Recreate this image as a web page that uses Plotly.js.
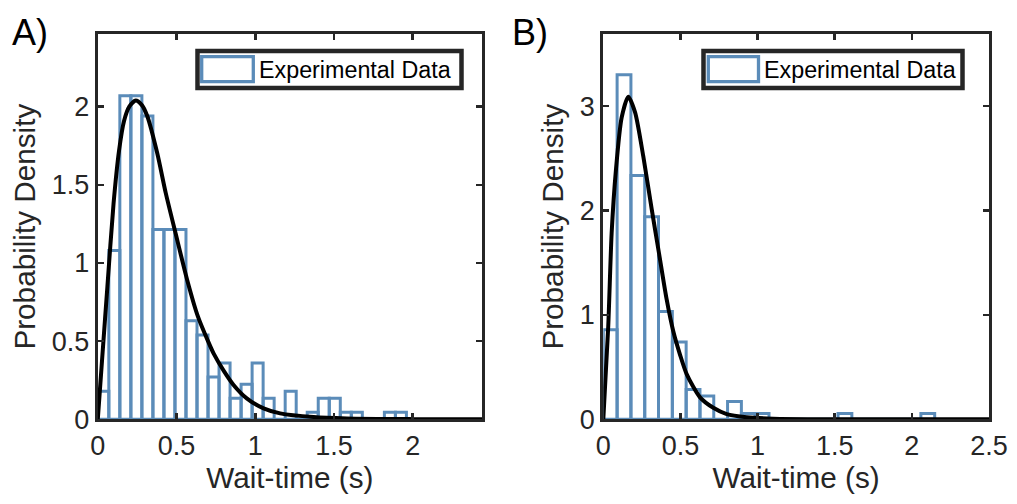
<!DOCTYPE html>
<html><head><meta charset="utf-8">
<script src="https://cdn.plot.ly/plotly-3.0.1.min.js"></script>
<style>html,body{margin:0;padding:0;background:#fff;} #chart{width:1017px;height:504px;}</style>
</head><body><div id="chart"></div>
<script>
// ---- Panel A: histogram (probability density) ----
const binStartA = 0;
const binWidthA = 0.07;
const densityA = [0.18,1.08,2.07,2.07,1.94,1.215,1.215,1.215,0.63,0.54,0.27,0.36,0.135,0.225,0.36,0.135,0,0.18,0,0.045,0.135,0.135,0.045,0.045,0,0,0.045,0.045];
// fitted curve A
const fitTimeA = [0,0.03,0.061,0.10,0.135,0.167,0.20,0.241,0.28,0.314,0.378,0.431,0.494,0.568,0.635,0.70,0.736,0.80,0.862,0.946,1.053,1.158,1.37,1.58,2.0,2.44];
const fitDensityA = [0,0.42,0.85,1.38,1.72,1.91,2.00,2.04,2.01,1.94,1.70,1.45,1.19,0.89,0.66,0.50,0.42,0.31,0.22,0.134,0.07,0.038,0.014,0.005,0.001,0];

// ---- Panel B ----
const binStartB = 0;
const binWidthB = 0.0895;
const densityB = [0.857,3.30,2.335,1.94,1.033,0.74,0.285,0.224,0,0.17,0.055,0.055,0,0,0,0,0,0.055,0,0,0,0,0,0.055];
const fitTimeB = [0,0.032,0.054,0.082,0.119,0.162,0.206,0.259,0.314,0.361,0.411,0.454,0.497,0.541,0.627,0.713,0.80,0.93,1.1,1.5,2.5];
const fitDensityB = [0,0.89,1.78,2.39,2.89,3.09,2.94,2.52,2.01,1.59,1.145,0.84,0.62,0.43,0.21,0.11,0.05,0.02,0.006,0.001,0];

const panelLabels = ['A)','B)'];
const legendText = 'Experimental Data';
const xTitle = 'Wait-time (s)';
const yTitle = 'Probability Density';

const W = 1017, H = 504;
const FONT = 'Liberation Sans, Arial, Helvetica, sans-serif';
const TXT = '#262626';
const BLUE = '#5b8cb9';
const px = x => x / W;
const py = y => 1 - y / H;

function centers(start, w, arr){ return arr.map((_, i) => start + (i + 0.5) * w); }

const barStyle = {color:'rgba(255,255,255,0)', line:{color:BLUE, width:3}};
const traces = [
  {type:'bar', x:centers(binStartA, binWidthA, densityA), y:densityA, width:binWidthA,
   marker:barStyle, xaxis:'x', yaxis:'y', showlegend:false, hoverinfo:'skip'},
  {type:'scatter', mode:'lines', x:fitTimeA, y:fitDensityA, line:{color:'#000', width:4, shape:'spline', smoothing:0.7},
   xaxis:'x', yaxis:'y', showlegend:false, hoverinfo:'skip'},
  {type:'bar', x:centers(binStartB, binWidthB, densityB), y:densityB, width:binWidthB,
   marker:barStyle, xaxis:'x2', yaxis:'y2', showlegend:false, hoverinfo:'skip'},
  {type:'scatter', mode:'lines', x:fitTimeB, y:fitDensityB, line:{color:'#000', width:4, shape:'spline', smoothing:0.7},
   xaxis:'x2', yaxis:'y2', showlegend:false, hoverinfo:'skip'}
];

const axBase = {
  showline:true, linewidth:3, linecolor:TXT, mirror:'ticks',
  ticks:'inside', ticklen:6, tickwidth:2.5, tickcolor:TXT,
  showgrid:false, zeroline:false, fixedrange:true,
  tickfont:{family:FONT, size:27, color:TXT}
};
const yDom = [(H - 419.3) / H, (H - 34) / H];

const layout = {
  width:W, height:H, margin:{l:0, r:0, t:0, b:0},
  paper_bgcolor:'#fff', plot_bgcolor:'#fff',
  bargap:0, barmode:'overlay',
  xaxis: Object.assign({}, axBase, {domain:[px(97.8), px(482)], range:[0, 2.44], tick0:0, dtick:0.5, anchor:'y',
    title:{text:xTitle, font:{family:FONT, size:29.7, color:TXT}, standoff:7}}),
  yaxis: Object.assign({}, axBase, {domain:yDom, range:[0, 2.465], tick0:0, dtick:0.5, anchor:'x',
    title:{text:yTitle, font:{family:FONT, size:29.7, color:TXT}, standoff:8}}),
  xaxis2: Object.assign({}, axBase, {domain:[px(603.3), px(989)], range:[0, 2.5], tick0:0, dtick:0.5, anchor:'y2',
    title:{text:xTitle, font:{family:FONT, size:29.7, color:TXT}, standoff:7}}),
  yaxis2: Object.assign({}, axBase, {domain:yDom, range:[0, 3.69], tick0:0, dtick:1, anchor:'x2',
    title:{text:yTitle, font:{family:FONT, size:29.7, color:TXT}, standoff:8}}),
  shapes: [
    {type:'rect', xref:'paper', yref:'paper', x0:px(197.5), x1:px(461.5), y0:py(51), y1:py(88), line:{color:TXT, width:4.5}, fillcolor:'#fff'},
    {type:'rect', xref:'paper', yref:'paper', x0:px(201.7), x1:px(253.3), y0:py(56.7), y1:py(81.7), line:{color:BLUE, width:3.3}, fillcolor:'#fff'},
    {type:'rect', xref:'paper', yref:'paper', x0:px(703.5), x1:px(962.5), y0:py(51), y1:py(88), line:{color:TXT, width:4.5}, fillcolor:'#fff'},
    {type:'rect', xref:'paper', yref:'paper', x0:px(708.3), x1:px(758.5), y0:py(56.7), y1:py(81.7), line:{color:BLUE, width:3.3}, fillcolor:'#fff'}
  ],
  annotations: [
    {text:legendText, xref:'paper', yref:'paper', x:px(257), y:py(70), xanchor:'left', yanchor:'middle', showarrow:false, font:{family:FONT, size:23.3, color:'#000'}},
    {text:legendText, xref:'paper', yref:'paper', x:px(762), y:py(70), xanchor:'left', yanchor:'middle', showarrow:false, font:{family:FONT, size:23.3, color:'#000'}},
    {text:panelLabels[0], xref:'paper', yref:'paper', x:px(10), y:py(33), xanchor:'left', yanchor:'middle', showarrow:false, font:{family:FONT, size:36, color:'#000'}},
    {text:panelLabels[1], xref:'paper', yref:'paper', x:px(510), y:py(33), xanchor:'left', yanchor:'middle', showarrow:false, font:{family:FONT, size:36, color:'#000'}}
  ]
};

Plotly.newPlot('chart', traces, layout, {displayModeBar:false, staticPlot:true});
</script>
</body></html>
